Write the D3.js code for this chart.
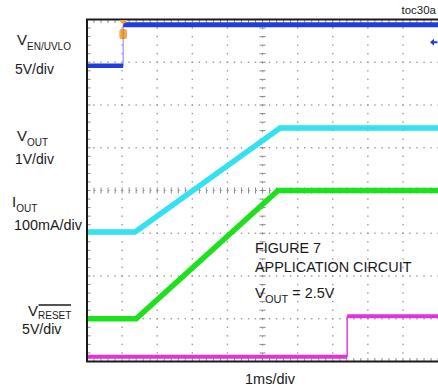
<!DOCTYPE html>
<html><head><meta charset="utf-8">
<script src="https://cdn.jsdelivr.net/npm/d3@7"></script>
<style>
body{margin:0;background:#fff;}
svg{display:block;font-family:"Liberation Sans",Arial,sans-serif;}
</style></head>
<body><svg id="c" width="438" height="391"></svg>
<script>
// time axis: 1 ms/div, 10 divisions on screen
const timeTicksMs = [0,1,2,3,4,5,6,7,8,9,10];
const divTicks = [0,1,2,3,4,5,6,7,8];

// Channel traces (time in ms from left edge of screen)
const enTime = [0, 1.03, 1.03, 10];
const enVolts = [0, 0, 4.8, 4.8];
const voutTime = [0, 1.37, 5.5, 10];
const voutVolts = [0, 0, 2.43, 2.43];
const ioutTime = [0, 1.4, 5.44, 10];
const ioutMilliamps = [0, 0, 300, 300];
const resetTime = [0, 7.41, 7.41, 10];
const resetVolts = [0, 0, 4.75, 4.75];

// scope settings: ground position (divisions from bottom) and units per division
const channelNames = ["EN/UVLO","VOUT","IOUT","RESET"];
const groundDiv = [6.92, 3.03, 1.0, 0.11];
const unitsPerDiv = [5, 1, 100, 5];

const W = 438, H = 391;
const L = 87, R = 438.1, T = 19.5, B = 361.5;
const svg = d3.select("#c");

const x = d3.scaleLinear().domain([0,10]).range([L, R]);
const yDiv = d3.scaleLinear().domain([0,8]).range([B, T]);

const g = svg.append("g");
const grid = g.append("g").attr("fill","#9a9a9a");

// dotted grid
const minorX = d3.range(0, 10.001, 0.2);
const minorY = d3.range(0, 8.001, 0.2);
timeTicksMs.slice(1,10).forEach(t => {
  if (t === 5) return;
  minorY.forEach(d => grid.append("rect").attr("x", x(t)-0.7).attr("y", yDiv(d)-0.7).attr("width",1.4).attr("height",1.4));
});
divTicks.slice(1,8).forEach(d => {
  if (d === 4) return;
  minorX.forEach(t => grid.append("rect").attr("x", x(t)-0.7).attr("y", yDiv(d)-0.7).attr("width",1.4).attr("height",1.4));
});
// center crosshair with tick marks
const cross = g.append("g").attr("stroke","#8a8a8a").attr("stroke-width",1);
minorX.forEach(t => {
  cross.append("line").attr("x1",x(t)).attr("x2",x(t)).attr("y1",yDiv(4)-3).attr("y2",yDiv(4)+3);
  cross.append("line").attr("x1",x(t)).attr("x2",x(t)).attr("y1",T).attr("y2",T+3.5);
  cross.append("line").attr("x1",x(t)).attr("x2",x(t)).attr("y1",B-3.5).attr("y2",B);
});
minorY.forEach(d => {
  cross.append("line").attr("x1",x(5)-3).attr("x2",x(5)+3).attr("y1",yDiv(d)).attr("y2",yDiv(d));
  cross.append("line").attr("x1",L).attr("x2",L+3.5).attr("y1",yDiv(d)).attr("y2",yDiv(d));
});
cross.append("line").attr("x1",L).attr("x2",R).attr("y1",yDiv(4)).attr("y2",yDiv(4)).attr("stroke-dasharray","1.4,5.62");
cross.append("line").attr("x1",x(5)).attr("x2",x(5)).attr("y1",T).attr("y2",B).attr("stroke-dasharray","1.4,7.15");

// traces
const clip = svg.append("clipPath").attr("id","pc").append("rect").attr("x",L).attr("y",T-4).attr("width",R-L).attr("height",B-T+4);
const traces = g.append("g").attr("clip-path","url(#pc)").attr("fill","none").attr("stroke-linejoin","miter");
function ch(i){ return v => yDiv(groundDiv[i] + v/unitsPerDiv[i]); }
function draw(times, vals, i, color, w){
  const yy = ch(i);
  const line = d3.line().x(d=>x(d[0])).y(d=>yy(d[1]));
  return traces.append("path").datum(times.map((t,k)=>[t,vals[k]])).attr("d",line).attr("stroke",color).attr("stroke-width",w);
}
// magenta
const yR = ch(3);
traces.append("line").attr("x1",x(resetTime[1])).attr("x2",x(resetTime[2])).attr("y1",yR(resetVolts[1])).attr("y2",yR(resetVolts[2])).attr("stroke","#e040d0").attr("stroke-width",1.5);
traces.append("path").datum([[resetTime[0],resetVolts[0]],[resetTime[1],resetVolts[1]]]).attr("d",d3.line().x(d=>x(d[0])).y(d=>yR(d[1]))).attr("stroke","#e035d6").attr("stroke-width",4);
traces.append("path").datum([[resetTime[2],resetVolts[2]],[resetTime[3],resetVolts[3]]]).attr("d",d3.line().x(d=>x(d[0])).y(d=>yR(d[1]))).attr("stroke","#e035d6").attr("stroke-width",4);
draw(ioutTime, ioutMilliamps, 2, "#1ee11e", 5.5);
draw(voutTime, voutVolts, 1, "#33e1f2", 5.5);
// blue EN/UVLO
const yE = ch(0);
traces.append("line").attr("x1",x(enTime[1])).attr("x2",x(enTime[2])).attr("y1",yE(enVolts[1])).attr("y2",yE(enVolts[2])).attr("stroke","#a8a8f0").attr("stroke-width",1.5);
traces.append("path").datum([[enTime[0],enVolts[0]],[enTime[1],enVolts[1]]]).attr("d",d3.line().x(d=>x(d[0])).y(d=>yE(d[1]))).attr("stroke","#1f3fdc").attr("stroke-width",4.5);
traces.append("path").datum([[enTime[2],enVolts[2]],[enTime[3],enVolts[3]]]).attr("d",d3.line().x(d=>x(d[0])).y(d=>yE(d[1]))).attr("stroke","#1f3fdc").attr("stroke-width",5);

// frame
const fr = g.append("g").attr("stroke","#1a1a1a").attr("stroke-width",2).attr("fill","none");
fr.append("path").attr("d",`M${R+2},${T}H${L}V${B}H${R+2}`);

// trigger marker
const tx = x(enTime[1]);
g.append("path").attr("d",`M${tx-4.5},${T+0.5}L${tx+4.5},${T+0.5}L${tx},${T+5}Z`).attr("fill","#f0a040");
g.append("rect").attr("x",tx-3.8).attr("y",29).attr("width",7.6).attr("height",10).attr("rx",2).attr("fill","#f0a84a");
g.append("line").attr("x1",tx).attr("x2",tx).attr("y1",29).attr("y2",39).attr("stroke","#c07020").attr("stroke-width",0.8);
// channel 1 reference arrow at right
g.append("path").attr("d",`M430,${yE(enVolts[2])+17.5}l4,-3.5v2.5h3.5v2h-3.5v2.5z`).attr("fill","#1f3fdc");

// text
const txt = g.append("g").attr("fill","#1a1a1a");
function label(xp, yp, main, sub, size, subSize, subDy){
  const t = txt.append("text").attr("x",xp).attr("y",yp).attr("font-size",size);
  t.append("tspan").text(main);
  if (sub) t.append("tspan").attr("font-size",subSize).attr("dy",subDy).text(sub);
  return t;
}
txt.append("text").attr("x",436).attr("y",14).attr("text-anchor","end").attr("font-size",11.5).text("toc30a");
label(17,45,"V","EN/UVLO",15,10,5);
txt.append("text").attr("x",15).attr("y",74).attr("font-size",14).text("5V/div");
label(17,141,"V","OUT",15,10,5);
txt.append("text").attr("x",15).attr("y",164).attr("font-size",14).text("1V/div");
label(12,207,"I","OUT",15,10,5);
txt.append("text").attr("x",14).attr("y",230).attr("font-size",14.4).text("100mA/div");
label(28,316,"V","RESET",15,10,2.5);
txt.append("line").attr("x1",38.5).attr("x2",71).attr("y1",305).attr("y2",305).attr("stroke","#1a1a1a").attr("stroke-width",1.3);
txt.append("text").attr("x",22).attr("y",334).attr("font-size",14.2).text("5V/div");
txt.append("text").attr("x",255).attr("y",253).attr("font-size",14.3).text("FIGURE 7");
txt.append("text").attr("x",255).attr("y",272).attr("font-size",14.4).text("APPLICATION CIRCUIT");
const vt = txt.append("text").attr("x",255).attr("y",297.5).attr("font-size",15);
vt.append("tspan").text("V");
vt.append("tspan").attr("font-size",11).attr("dy",5).text("OUT");
vt.append("tspan").attr("font-size",14.4).attr("dy",-5).text(" = 2.5V");
txt.append("text").attr("x",245).attr("y",384).attr("font-size",14.5).text("1ms/div");
</script></body></html>
